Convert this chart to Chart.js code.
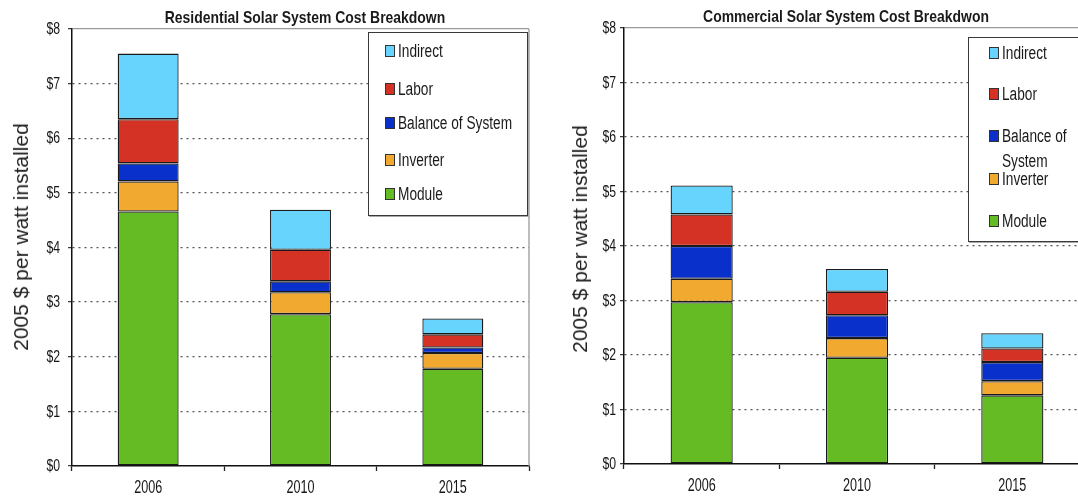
<!DOCTYPE html>
<html>
<head>
<meta charset="utf-8">
<script src="https://cdn.jsdelivr.net/npm/chart.js@4.4.0/dist/chart.umd.min.js"></script>
<style>
html, body { margin:0; padding:0; background:#fff; }
body { width:1078px; height:498px; overflow:hidden; position:relative;
       font-family:"Liberation Sans",Arial,sans-serif; color:#1a1a1a; }
canvas { position:absolute; top:0; }
#c-res { left:0; }
#c-com { left:540px; }
.titulo { position:absolute; font-weight:bold; font-size:17px; line-height:20px; white-space:nowrap;
          transform:translateX(-50%) scaleX(0.82); }
.eje { position:absolute; font-size:21px; line-height:24px; white-space:nowrap;
       transform:translate(-50%,-50%) rotate(-90deg); color:#222; }
.leyenda { position:absolute; background:#fff; border:1.5px solid #3a3a3a; box-shadow:1px 1px 0 #aaa; }
.fila { position:absolute; display:flex; align-items:flex-start; font-size:18px; line-height:20px; }
.fila .txt { transform:scaleX(0.76); transform-origin:0 50%; white-space:pre; }
.cuadro { width:10px; height:12px; border:1px solid #333; margin-top:4px; margin-right:3px; flex:none; box-sizing:border-box; }
</style>
</head>
<body>
<canvas id="c-res" width="540" height="498"></canvas>
<canvas id="c-com" width="560" height="498"></canvas>

<div class="titulo" id="t-res" style="left:305px; top:8px;"></div>
<div class="titulo" id="t-com" style="left:846px; top:7px;"></div>
<div class="eje" id="e-res" style="left:21px; top:237px;"></div>
<div class="eje" id="e-com" style="left:580px; top:239px;"></div>

<div class="leyenda" id="l-res" style="left:368px; top:32px; width:158px; height:182px;"></div>
<div class="leyenda" id="l-com" style="left:968px; top:37px; width:140px; height:203px;"></div>

<script>
// categorias y series (de abajo hacia arriba en la pila)
const anios = ["2006", "2010", "2015"];
const series = ["Module", "Inverter", "Balance of System", "Labor", "Indirect"];

// Residencial, 2005 $ por watt
const resModule   = [4.66, 2.78, 1.78];
const resInverter = [0.55, 0.40, 0.29];
const resBos      = [0.33, 0.20, 0.10];
const resLabor    = [0.81, 0.58, 0.24];
const resIndirect = [1.20, 0.73, 0.29];

// Comercial, 2005 $ por watt
const comModule   = [2.97, 1.95, 1.26];
const comInverter = [0.43, 0.36, 0.26];
const comBos      = [0.60, 0.42, 0.35];
const comLabor    = [0.58, 0.43, 0.25];
const comIndirect = [0.53, 0.42, 0.28];

const yTicks = ["$0", "$1", "$2", "$3", "$4", "$5", "$6", "$7", "$8"];

const titulos = ["Residential Solar System Cost Breakdown", "Commercial Solar System Cost Breakdwon"];
const ejeY = "2005 $ per watt installed";

const colores = {
    "Module": "#64bb24",
    "Inverter": "#f2a930",
    "Balance of System": "#0a30cc",
    "Labor": "#d43224",
    "Indirect": "#66d4fd"
};

function armarDatasets(valores) {
    return series.map((nombre, i) => ({
        label: nombre,
        data: valores[i],
        backgroundColor: colores[nombre],
        borderColor: "#1a1a1a",
        borderWidth: 1.3,
        borderSkipped: false,
        barPercentage: 0.4,
        categoryPercentage: 1
    }));
}

// marco gris a la derecha del area de trazado
const marco = {
    id: "marco",
    afterDraw(chart) {
        const { ctx, chartArea: a } = chart;
        ctx.save();
        ctx.strokeStyle = "#9a9a9a";
        ctx.lineWidth = 1.3;
        ctx.beginPath();
        ctx.moveTo(a.right, a.top);
        ctx.lineTo(a.right, a.bottom);
        ctx.stroke();
        ctx.restore();
    }
};

// etiquetas de los ejes con letra angosta (no hay Arial Narrow instalada)
const etiquetasAngostas = {
    id: "etiquetasAngostas",
    afterDraw(chart, args, opts) {
        const { ctx, chartArea: a } = chart;
        const x = chart.scales.x, y = chart.scales.y;
        ctx.save();
        ctx.fillStyle = "#161616";
        ctx.font = "17px 'Liberation Sans', sans-serif";
        ctx.textAlign = "right";
        ctx.textBaseline = "middle";
        y.ticks.forEach(t => {
            ctx.save();
            ctx.translate(a.left - opts.sepY, y.getPixelForValue(t.value) + 0.5);
            ctx.scale(0.72, 1);
            ctx.fillText(yTicks[t.value], 0, 0);
            ctx.restore();
        });
        ctx.font = "18px 'Liberation Sans', sans-serif";
        ctx.textAlign = "center";
        x.ticks.forEach((t, i) => {
            ctx.save();
            ctx.translate(x.getPixelForTick(i), a.bottom + opts.sepX);
            ctx.scale(0.7, 1);
            ctx.fillText(anios[i], 0, 0);
            ctx.restore();
        });
        ctx.restore();
    }
};

function crearGrafico(id, valores, cfg) {
    return new Chart(document.getElementById(id), {
        type: "bar",
        data: { labels: anios, datasets: armarDatasets(valores) },
        options: {
            responsive: false,
            animation: false,
            devicePixelRatio: 1,
            layout: { padding: { left: 0, right: cfg.padDer, top: cfg.padSup, bottom: 0 } },
            plugins: {
                legend: { display: false }, title: { display: false }, tooltip: { enabled: false },
                etiquetasAngostas: { sepY: cfg.sepY, sepX: 22 }
            },
            scales: {
                x: {
                    stacked: true,
                    afterFit(s) { s.height = cfg.altoX; },
                    grid: { offset: true, drawOnChartArea: false, drawTicks: true, tickLength: 5, tickColor: "#222", tickWidth: 1.3 },
                    border: { color: "#111", width: 1.5 },
                    ticks: { display: false }
                },
                y: {
                    stacked: true,
                    min: 0,
                    max: 8,
                    afterFit(s) { s.width = cfg.anchoY; },
                    afterBuildTicks(s) { s.ticks = yTicks.map((t, i) => ({ value: i })); },
                    grid: {
                        color: c => c.tick.value === 8 ? "#9a9a9a" : (c.tick.value === 0 ? "rgba(0,0,0,0)" : "#555"),
                        lineWidth: 1.3,
                        tickLength: 4,
                        tickColor: "#333",
                        tickWidth: 1.2
                    },
                    border: { color: "#111", width: 1.5, dash: c => (c.tick && c.tick.value === 8) ? [] : [2, 4] },
                    ticks: { display: false }
                }
            }
        },
        plugins: [marco, etiquetasAngostas]
    });
}

crearGrafico("c-res", [resModule, resInverter, resBos, resLabor, resIndirect],
    { padDer: 11, padSup: 29, altoX: 32, anchoY: 72, sepY: 12 });
crearGrafico("c-com", [comModule, comInverter, comBos, comLabor, comIndirect],
    { padDer: 10, padSup: 28, altoX: 34, anchoY: 84, sepY: 8 });

document.getElementById("t-res").textContent = titulos[0];
document.getElementById("t-com").textContent = titulos[1];
document.getElementById("e-res").textContent = ejeY;
document.getElementById("e-com").textContent = ejeY;

// leyendas (orden inverso a la pila)
function armarLeyenda(id, etiquetas, filas, izq, altoLinea) {
    const caja = document.getElementById(id);
    series.slice().reverse().forEach((nombre, i) => {
        const fila = document.createElement("div");
        fila.className = "fila";
        fila.style.left = izq + "px";
        fila.style.top = filas[i] + "px";
        const cuadro = document.createElement("div");
        cuadro.className = "cuadro";
        cuadro.style.background = colores[nombre];
        const txt = document.createElement("div");
        txt.className = "txt";
        txt.textContent = etiquetas[nombre] || nombre;
        if (altoLinea) { txt.style.lineHeight = altoLinea + "px"; txt.style.marginTop = ((20 - altoLinea) / 2) + "px"; }
        fila.appendChild(cuadro);
        fila.appendChild(txt);
        caja.appendChild(fila);
    });
}

armarLeyenda("l-res", {}, [8, 46, 80, 117, 151], 16, 0);
armarLeyenda("l-com", { "Balance of System": "Balance of\nSystem" }, [5, 46, 88, 131, 173], 20, 25);
</script>
</body>
</html>
